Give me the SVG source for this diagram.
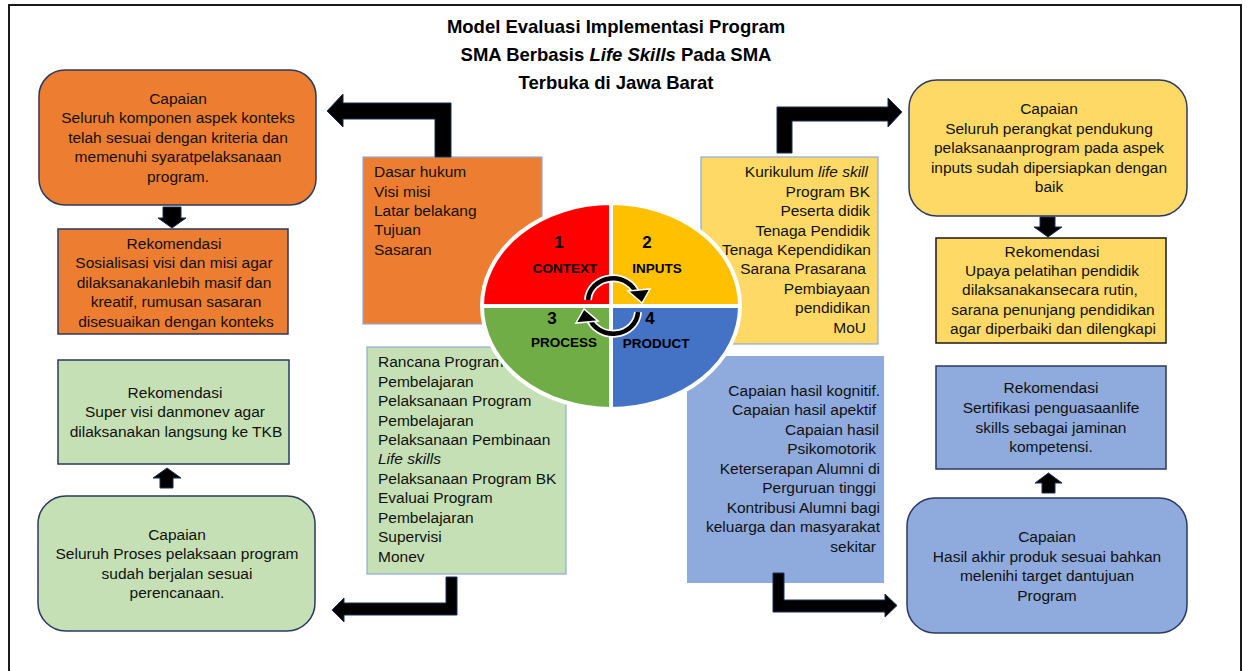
<svg xmlns="http://www.w3.org/2000/svg" width="1247" height="671" viewBox="0 0 1247 671">
  <style>
    .t { font-family: "Liberation Sans", Arial, sans-serif; font-size: 15.5px; fill: #111; }
    .c { text-anchor: middle; }
    .e { text-anchor: end; }
    .i { font-style: italic; }
    .title { font-family: "Liberation Sans", Arial, sans-serif; font-size: 18.5px; font-weight: bold; fill: #000; text-anchor: middle; }
    .q { font-family: "Liberation Sans", Arial, sans-serif; font-weight: bold; fill: #000; }
    .num { font-size: 17px; }
    .lbl { font-size: 13.5px; text-anchor: middle; }
    .frame { fill: #fff; stroke: #1a1a1a; stroke-width: 2; }
    .box { stroke: #2a3a60; stroke-width: 1.5; }
    .list { stroke: #8ea9db; stroke-width: 1.2; }
    .orange { fill: #ed7d31; }
    .yellow { fill: #ffd966; }
    .green { fill: #c5e0b4; }
    .blue { fill: #8faadc; }
    .arrow { fill: #000; stroke: #1f2f55; stroke-width: 1; }
    .quad { stroke: #fff; stroke-width: 4; }
  </style>

  <rect class="frame" x="9" y="5" width="1232" height="680"/>

  <g id="title">
    <text class="title" x="616" y="33">Model Evaluasi Implementasi Program</text>
    <text class="title" x="616" y="61">SMA Berbasis <tspan font-style="italic">Life Skills</tspan> Pada SMA</text>
    <text class="title" x="616" y="89">Terbuka di Jawa Barat</text>
  </g>

  <!-- Lists of evaluated components, one per aspect -->
  <g id="context-list">
    <rect class="orange list" x="363" y="157" width="179" height="167"/>
    <text class="t" x="374" y="177">Dasar hukum</text>
    <text class="t" x="374" y="197">Visi misi</text>
    <text class="t" x="374" y="216">Latar belakang</text>
    <text class="t" x="374" y="235">Tujuan</text>
    <text class="t" x="374" y="255">Sasaran</text>
  </g>

  <g id="inputs-list">
    <rect class="yellow list" x="701" y="157" width="177" height="187"/>
    <text class="t e" x="868" y="177">Kurikulum <tspan class="i">life skill</tspan></text>
    <text class="t e" x="870" y="197">Program BK</text>
    <text class="t e" x="870" y="216">Peserta didik</text>
    <text class="t e" x="870" y="236">Tenaga Pendidik</text>
    <text class="t e" x="871" y="255">Tenaga Kependidikan</text>
    <text class="t e" x="866" y="274">Sarana Prasarana</text>
    <text class="t e" x="870" y="294">Pembiayaan</text>
    <text class="t e" x="870" y="313">pendidikan</text>
    <text class="t e" x="866" y="333">MoU</text>
  </g>

  <g id="process-list">
    <rect class="green list" x="367" y="347" width="199" height="227"/>
    <text class="t" x="378" y="367">Rancana Program</text>
    <text class="t" x="378" y="387">Pembelajaran</text>
    <text class="t" x="378" y="406">Pelaksanaan Program</text>
    <text class="t" x="378" y="426">Pembelajaran</text>
    <text class="t" x="378" y="445">Pelaksanaan Pembinaan</text>
    <text class="t i" x="378" y="464">Life skills</text>
    <text class="t" x="378" y="484">Pelaksanaan Program BK</text>
    <text class="t" x="378" y="503">Evaluai Program</text>
    <text class="t" x="378" y="523">Pembelajaran</text>
    <text class="t" x="378" y="542">Supervisi</text>
    <text class="t" x="378" y="562">Monev</text>
  </g>

  <g id="product-list">
    <rect class="blue" x="687" y="356" width="197" height="227"/>
    <text class="t e" x="880" y="396">Capaian hasil kognitif.</text>
    <text class="t e" x="876" y="415">Capaian hasil apektif</text>
    <text class="t e" x="879" y="435">Capaian hasil</text>
    <text class="t e" x="876" y="454">Psikomotorik</text>
    <text class="t e" x="880" y="474">Keterserapan Alumni di</text>
    <text class="t e" x="876" y="493">Perguruan tinggi</text>
    <text class="t e" x="880" y="513">Kontribusi Alumni bagi</text>
    <text class="t e" x="880" y="532">keluarga dan masyarakat</text>
    <text class="t e" x="876" y="552">sekitar</text>
  </g>

  <!-- CIPP wheel -->
  <g id="cipp-wheel">
    <path class="quad" fill="#ff0000" d="M611 306 L482 306 A129 103 0 0 1 611 203 Z"/>
    <path class="quad" fill="#ffc000" d="M611 306 L611 203 A129 103 0 0 1 740 306 Z"/>
    <path class="quad" fill="#4472c4" d="M611 306 L740 306 A129 103 0 0 1 611 409 Z"/>
    <path class="quad" fill="#70ad47" d="M611 306 L611 409 A129 103 0 0 1 482 306 Z"/>
    <text class="q num" x="559" y="248" text-anchor="middle">1</text>
    <text class="q lbl" x="565" y="273">CONTEXT</text>
    <text class="q num" x="647" y="248" text-anchor="middle">2</text>
    <text class="q lbl" x="657" y="273">INPUTS</text>
    <text class="q num" x="552" y="324" text-anchor="middle">3</text>
    <text class="q lbl" x="564" y="347">PROCESS</text>
    <text class="q num" x="650" y="324" text-anchor="middle">4</text>
    <text class="q lbl" x="656" y="348">PRODUCT</text>
    <!-- cycle arrows -->
    <path d="M588 300 A25 23 0 0 1 637 295" fill="none" stroke="#fff" stroke-width="8"/>
    <path d="M588 300 A25 23 0 0 1 637 295" fill="none" stroke="#000" stroke-width="4.5"/>
    <polygon points="628,291 650,289 642,303" fill="#000" stroke="#fff" stroke-width="1.5"/>
    <path d="M638 312 A25 23 0 0 1 589 317" fill="none" stroke="#fff" stroke-width="8"/>
    <path d="M638 312 A25 23 0 0 1 589 317" fill="none" stroke="#000" stroke-width="4.5"/>
    <polygon points="598,321 576,323 584,309" fill="#000" stroke="#fff" stroke-width="1.5"/>
  </g>

  <!-- Outcome and recommendation boxes -->
  <g id="context-capaian">
    <rect class="orange box" x="39" y="70" width="277" height="135" rx="26"/>
    <text class="t c" x="178" y="104">Capaian</text>
    <text class="t c" x="178" y="123">Seluruh komponen aspek konteks</text>
    <text class="t c" x="178" y="143">telah sesuai dengan kriteria dan</text>
    <text class="t c" x="178" y="162">memenuhi syaratpelaksanaan</text>
    <text class="t c" x="178" y="182">program.</text>
  </g>

  <g id="context-rekomendasi">
    <rect class="orange box" x="58" y="229" width="230" height="105"/>
    <text class="t c" x="174" y="249">Rekomendasi</text>
    <text class="t c" x="174" y="268">Sosialisasi visi dan misi agar</text>
    <text class="t c" x="174" y="288">dilaksanakanlebih masif dan</text>
    <text class="t c" x="176" y="307">kreatif, rumusan sasaran</text>
    <text class="t c" x="176" y="327">disesuaikan dengan konteks</text>
  </g>

  <g id="inputs-capaian">
    <rect class="yellow box" x="909" y="80" width="278" height="136" rx="28"/>
    <text class="t c" x="1049" y="114">Capaian</text>
    <text class="t c" x="1049" y="134">Seluruh perangkat pendukung</text>
    <text class="t c" x="1049" y="153">pelaksanaanprogram  pada aspek</text>
    <text class="t c" x="1049" y="173">inputs sudah dipersiapkan dengan</text>
    <text class="t c" x="1049" y="192">baik</text>
  </g>

  <g id="inputs-rekomendasi">
    <rect class="yellow" x="936" y="238" width="230" height="105" stroke="#1a1a1a" stroke-width="1.5"/>
    <text class="t c" x="1052" y="257">Rekomendasi</text>
    <text class="t c" x="1052" y="276">Upaya pelatihan pendidik</text>
    <text class="t c" x="1050" y="295">dilaksanakansecara rutin,</text>
    <text class="t c" x="1053" y="315">sarana penunjang pendidikan</text>
    <text class="t c" x="1053" y="334">agar diperbaiki dan dilengkapi</text>
  </g>

  <g id="process-rekomendasi">
    <rect class="green box" x="58" y="360" width="231" height="104"/>
    <text class="t c" x="175" y="398">Rekomendasi</text>
    <text class="t c" x="175" y="417">Super visi danmonev agar</text>
    <text class="t c" x="176" y="437">dilaksanakan langsung ke TKB</text>
  </g>

  <g id="process-capaian">
    <rect class="green box" x="38" y="496" width="277" height="135" rx="28"/>
    <text class="t c" x="177" y="540">Capaian</text>
    <text class="t c" x="177" y="559">Seluruh Proses pelaksaan program</text>
    <text class="t c" x="177" y="579">sudah berjalan sesuai</text>
    <text class="t c" x="177" y="598">perencanaan.</text>
  </g>

  <g id="product-rekomendasi">
    <rect class="blue box" x="936" y="366" width="230" height="103"/>
    <text class="t c" x="1051" y="393">Rekomendasi</text>
    <text class="t c" x="1051" y="413">Sertifikasi penguasaanlife</text>
    <text class="t c" x="1051" y="433">skills sebagai jaminan</text>
    <text class="t c" x="1051" y="452">kompetensi.</text>
  </g>

  <g id="product-capaian">
    <rect class="blue box" x="907" y="498" width="280" height="135" rx="28"/>
    <text class="t c" x="1047" y="542">Capaian</text>
    <text class="t c" x="1047" y="562">Hasil akhir produk sesuai bahkan</text>
    <text class="t c" x="1047" y="581">melenihi target dantujuan</text>
    <text class="t c" x="1047" y="601">Program</text>
  </g>

  <!-- Block arrows -->
  <g id="connectors">
    <polygon class="arrow" points="451,103 451,157 435,157 435,119 343,119 343,127 327,111 343,94 343,103"/>
    <polygon class="arrow" points="777,153 777,107 888,107 888,98 902,112 888,127 888,121 792,121 792,153"/>
    <polygon class="arrow" points="446,577 457,577 457,615 344,615 344,622 332,610 344,598 344,603 446,603"/>
    <polygon class="arrow" points="773,573 784,573 784,600 885,600 885,594 897,605.5 885,617 885,612 773,612"/>
    <polygon class="arrow" points="163,207 181,207 181,218 186,218 172,228 158,218 163,218"/>
    <polygon class="arrow" points="1040,217 1055,217 1055,227 1062,227 1048,237 1034,227 1040,227"/>
    <polygon class="arrow" points="160,488 173,488 173,478 181,478 167,468 153,478 160,478"/>
    <polygon class="arrow" points="1042,493 1055,493 1055,483 1062,483 1048.5,473 1035,483 1042,483"/>
  </g>
</svg>
